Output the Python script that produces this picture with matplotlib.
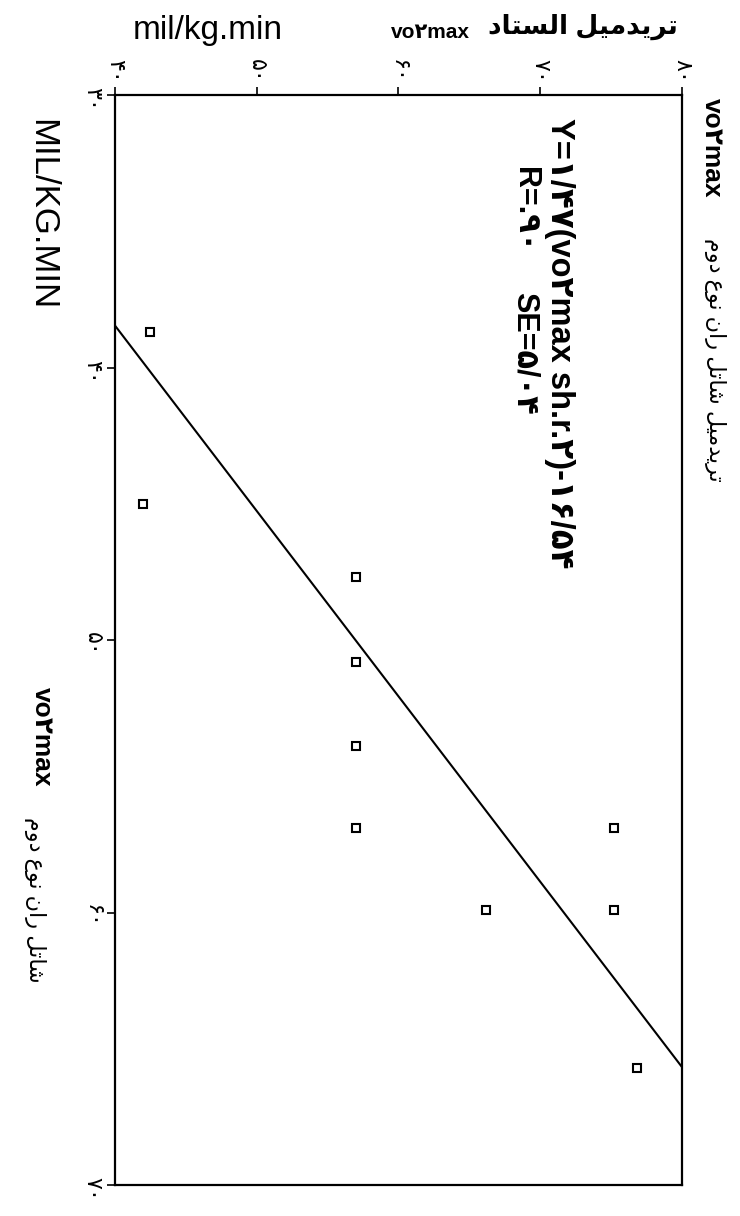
import numpy as np
import matplotlib
matplotlib.use("Agg")
import matplotlib.pyplot as plt

plt.rcParams['font.family'] = ['Liberation Sans', 'DejaVu Sans']

# shuttle run vo2max (axis 30-70, drawn down the left side)
shuttle = [38.7, 45, 47.7, 50.8, 53.9, 56.9, 56.9, 59.9, 59.9, 65.7]
# treadmill vo2max (axis 40-80, drawn along the top)
treadmill = [42.5, 42, 57, 57, 57, 57, 75.2, 75.2, 66.2, 76.8]

slope = 1.47
intercept = -16.54

shuttle_ticks = [30, 40, 50, 60, 70]
shuttle_labels = ['۳۰', '۴۰', '۵۰', '۶۰', '۷۰']
tread_ticks = [40, 50, 60, 70, 80]
tread_labels = ['۴۰', '۵۰', '۶۰', '۷۰', '۸۰']

eq_text = 'Y=۱/۴۷(vo۲max sh.r.۲)-۱۶/۵۴'
r_text = 'R=.۹۰'
se_text = 'SE=۵/۰۴'

# presentation forms: isolated, final, initial, medial
FORMS = {
    'ا': ('\uFE8D', '\uFE8E', None, None),
    'ت': ('\uFE95', '\uFE96', '\uFE97', '\uFE98'),
    'د': ('\uFEA9', '\uFEAA', None, None),
    'ر': ('\uFEAD', '\uFEAE', None, None),
    'س': ('\uFEB1', '\uFEB2', '\uFEB3', '\uFEB4'),
    'ش': ('\uFEB5', '\uFEB6', '\uFEB7', '\uFEB8'),
    'ع': ('\uFEC9', '\uFECA', '\uFECB', '\uFECC'),
    'ل': ('\uFEDD', '\uFEDE', '\uFEDF', '\uFEE0'),
    'م': ('\uFEE1', '\uFEE2', '\uFEE3', '\uFEE4'),
    'ن': ('\uFEE5', '\uFEE6', '\uFEE7', '\uFEE8'),
    'و': ('\uFEED', '\uFEEE', None, None),
    'ی': ('\uFEEF', '\uFEF0', '\uFEF3', '\uFEF4'),
}


def shape(s):
    out = []
    for i, c in enumerate(s):
        if c not in FORMS:
            out.append(c)
            continue
        prev = s[i - 1] if i > 0 else None
        nxt = s[i + 1] if i < len(s) - 1 else None
        jp = prev in FORMS and FORMS[prev][2] is not None
        jn = FORMS[c][2] is not None and nxt in FORMS
        if jp and jn:
            out.append(FORMS[c][3])
        elif jp:
            out.append(FORMS[c][1])
        elif jn:
            out.append(FORMS[c][2])
        else:
            out.append(FORMS[c][0])
    return ''.join(out[::-1])


W, H = 740, 1216


def px(x, y):
    return x / W, 1 - y / H


fig = plt.figure(figsize=(7.4, 12.16), dpi=100)
ax = fig.add_axes([115 / W, 1 - 1185 / H, (682 - 115) / W, (1185 - 95) / H])

ax.plot(treadmill, shuttle, linestyle='none', marker='s', markersize=5.5,
        markerfacecolor='white', markeredgecolor='black', markeredgewidth=1.5)

xs = np.array([30, 70])
ax.plot(slope * xs + intercept, xs, color='black', linewidth=1.5)

ax.set_xlim(40, 80)
ax.set_ylim(70, 30)
ax.xaxis.tick_top()
ax.set_xticks(tread_ticks)
ax.set_xticklabels(tread_labels)
ax.set_yticks(shuttle_ticks)
ax.set_yticklabels(shuttle_labels)
ax.tick_params(axis='both', direction='out', length=6, width=1.2,
               labelsize=16, labelrotation=-90, pad=3)
for sp in ax.spines.values():
    sp.set_linewidth(1.6)

# top axis title
fig.text(*px(208, 31), 'mil/kg.min', fontsize=24, ha='center', va='center')
fig.text(*px(430, 32), 'vo۲max', fontsize=15, fontweight='bold', ha='center', va='center')
fig.text(*px(583, 27), shape('تریدمیل الستاد'), fontsize=19, fontweight='bold',
         ha='center', va='center')

# left axis title
fig.text(*px(42, 215), 'MIL/KG.MIN', fontsize=25, rotation=-90, ha='center', va='center')
fig.text(*px(42, 737), 'vo۲max', fontsize=19, fontweight='bold', rotation=-90,
         ha='center', va='center')
fig.text(*px(35, 900), shape('شاتل ران نوع دوم'), fontsize=16, rotation=-90,
         ha='center', va='center')

# right side caption
fig.text(*px(712, 148), 'vo۲max', fontsize=19, fontweight='bold', rotation=-90,
         ha='center', va='center')
fig.text(*px(715, 360), shape('تریدمیل شاتل ران نوع دوم'), fontsize=16, rotation=-90,
         ha='center', va='center')

# regression text
fig.text(*px(560, 118), eq_text, fontsize=23.5, fontweight='bold', rotation=-90,
         ha='center', va='top')
fig.text(*px(525, 167), r_text, fontsize=22, fontweight='bold', rotation=-90,
         ha='center', va='top')
fig.text(*px(525, 292), se_text, fontsize=22, fontweight='bold', rotation=-90,
         ha='center', va='top')

fig.savefig('out.png', dpi=100)
